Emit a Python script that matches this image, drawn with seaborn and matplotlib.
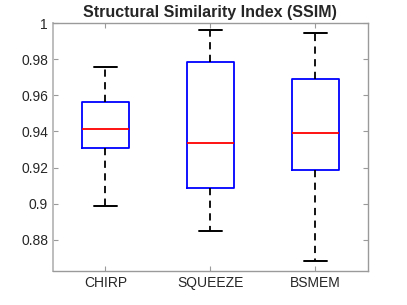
import numpy as np
import pandas as pd
import seaborn as sns
import matplotlib.pyplot as plt

methods = ["CHIRP", "SQUEEZE", "BSMEM"]
# five-number summaries: low whisker, q1, median, q3, high whisker
chirp = [0.899, 0.931, 0.9415, 0.9565, 0.9755]
squeeze = [0.885, 0.9085, 0.9335, 0.9785, 0.996]
bsmem = [0.8685, 0.9185, 0.939, 0.969, 0.9945]

df = pd.DataFrame({
    "method": np.repeat(methods, 5),
    "ssim": chirp + squeeze + bsmem,
})

sns.set_style("white")
plt.rcParams["font.family"] = ["Liberation Sans", "DejaVu Sans"]

fig = plt.figure(figsize=(4.07, 3.05), dpi=100)
ax = fig.add_axes([0.13, 0.1115, 0.774, 0.813])

sns.boxplot(
    data=df, x="method", y="ssim", order=methods,
    whis=(0, 100), width=0.45, fill=False, ax=ax,
    boxprops=dict(color="blue", linewidth=1.3),
    medianprops=dict(color="red", linewidth=1.3),
    whiskerprops=dict(color="black", linewidth=1.3, linestyle=(0, (4, 3))),
    capprops=dict(color="black", linewidth=1.4),
)

ax.set_ylim(0.8628, 1.0)
ax.set_xlim(-0.5, 2.5)
ax.set_yticks([0.88, 0.9, 0.92, 0.94, 0.96, 0.98, 1.0])
ax.set_yticklabels(["0.88", "0.9", "0.92", "0.94", "0.96", "0.98", "1"])
ax.set_xlabel("")
ax.set_ylabel("")
ax.set_title("Structural Similarity Index (SSIM)", fontsize=11.5, fontweight="bold", pad=4)

for s in ax.spines.values():
    s.set_color("#9a9a9a")
    s.set_linewidth(1.0)
ax.spines["left"].set_color("#bdbdbd")
ax.spines["left"].set_linewidth(1.4)
ax.tick_params(direction="in", length=3.5, width=0.8, color="#9a9a9a",
               labelsize=10, labelcolor="#262626",
               top=True, right=True, left=True, bottom=True)

fig.savefig("out.png", dpi=100)
